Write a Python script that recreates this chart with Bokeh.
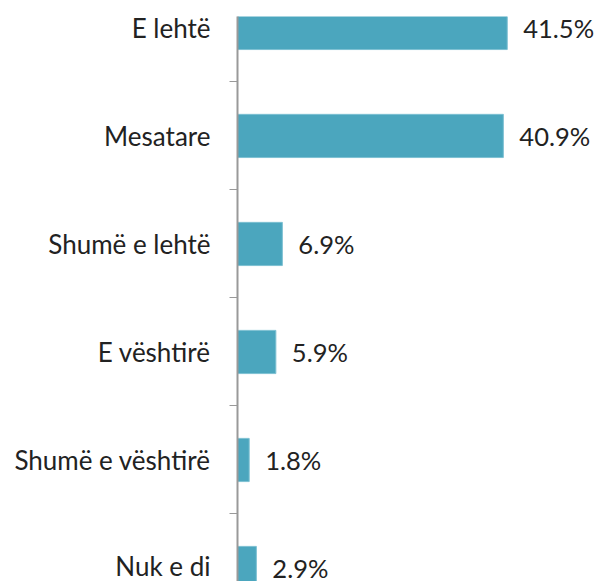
from bokeh.plotting import figure
from bokeh.models import Range1d, FixedTicker, ColumnDataSource
from bokeh.core.properties import value
from bokeh.embed import file_html
from bokeh.resources import INLINE

categories = ["E lehtë", "Mesatare", "Shumë e lehtë", "E vështirë", "Shumë e vështirë", "Nuk e di"]
percentages = [41.5, 40.9, 6.9, 5.9, 1.8, 2.9]
value_labels = ["41.5%", "40.9%", "6.9%", "5.9%", "1.8%", "2.9%"]

positions = list(range(len(categories)))
source = ColumnDataSource(dict(y=positions, x=percentages, lab=value_labels))

FONT = "Lato"
TEXT_COLOR = "#222222"
BAR_COLOR = "#4BA6BE"

p = figure(width=598, height=581, output_backend="svg", toolbar_location=None,
           x_range=Range1d(0, 55.54), y_range=Range1d(5.125, -0.106),
           min_border_left=237, min_border_right=0, min_border_top=16, min_border_bottom=0)

p.hbar(y="y", left=0, right="x", height=0.4, source=source,
       fill_color=BAR_COLOR, line_color="#7DC0D2", line_width=1)

p.text(x="x", y="y", text="lab", source=source, x_offset=16,
       text_baseline="middle", text_align="left",
       text_font=value(FONT), text_font_size="25.5px", text_color=TEXT_COLOR)

p.xaxis.visible = False
p.xgrid.visible = False
p.ygrid.visible = False
p.outline_line_color = None

ax = p.yaxis[0]
boundaries = [i + 0.5 for i in positions]
ax.ticker = FixedTicker(ticks=positions, minor_ticks=[-0.5] + boundaries)
ax.major_label_overrides = {i: c for i, c in zip(positions, categories)}
ax.major_tick_line_color = None
ax.major_tick_out = 0
ax.major_tick_in = 0
ax.minor_tick_out = 8
ax.minor_tick_in = 0
ax.minor_tick_line_color = "#999999"
ax.minor_tick_line_width = 1
ax.axis_line_color = "#999999"
ax.axis_line_width = 2
ax.major_label_standoff = 19
ax.major_label_text_font = FONT
ax.major_label_text_font_size = "26px"
ax.major_label_text_color = TEXT_COLOR

open("out.html", "w").write(file_html(p, INLINE))
